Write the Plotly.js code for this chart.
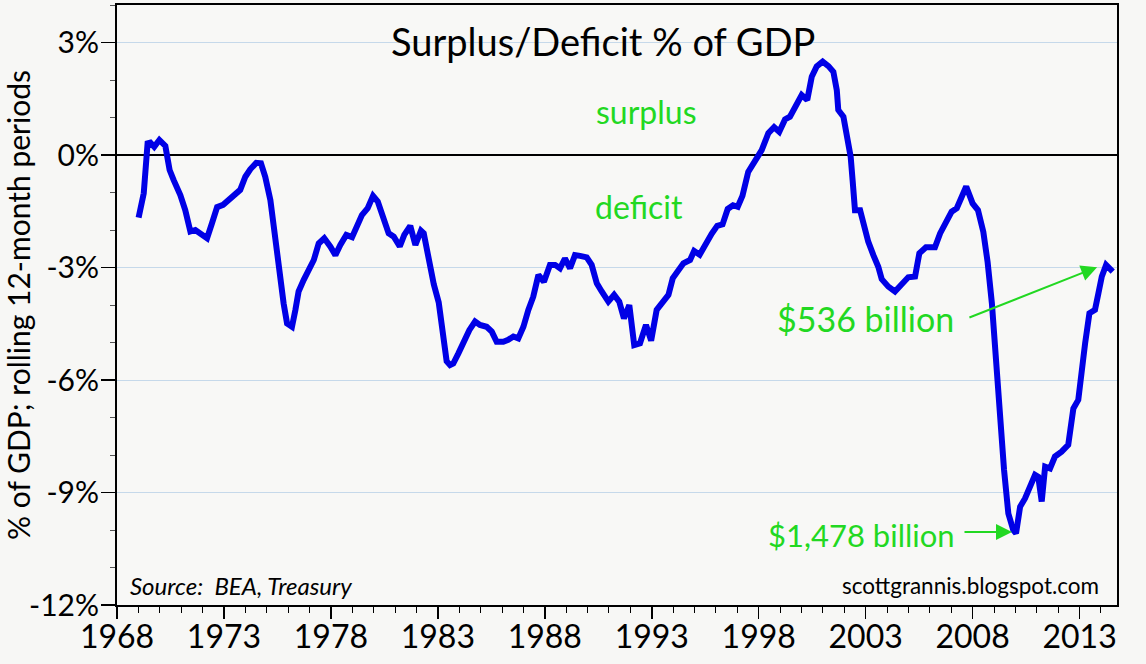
<!DOCTYPE html>
<html>
<head>
<meta charset="utf-8">
<script src="https://cdn.plot.ly/plotly-3.0.1.min.js"></script>
<style>html,body{margin:0;padding:0;background:#f7f7f5;}#chart{width:1146px;height:664px;}</style>
</head>
<body>
<div id="chart"></div>
<script>
// Year (decimal) and surplus/deficit as % of GDP, rolling 12-month periods
const years = [
1969.01,1969.25,1969.43,1969.56,1969.74,1969.98,1970.26,1970.46,1970.65,1970.96,
1971.19,1971.43,1971.66,1971.97,1972.21,1972.44,1972.68,1972.96,1973.30,1973.53,
1973.76,1974.00,1974.23,1974.51,1974.73,1974.93,1975.17,1975.33,1975.48,1975.64,
1975.79,1975.95,1976.18,1976.34,1976.49,1976.73,1976.96,1977.20,1977.43,1977.69,
1977.97,1978.21,1978.44,1978.72,1978.99,1979.22,1979.45,1979.72,1979.97,1980.19,
1980.44,1980.70,1980.94,1981.22,1981.43,1981.71,1981.95,1982.21,1982.34,1982.57,
1982.81,1983.04,1983.22,1983.41,1983.57,1983.72,1983.96,1984.19,1984.47,1984.74,
1984.97,1985.28,1985.52,1985.75,1986.06,1986.29,1986.53,1986.76,1987.00,1987.23,
1987.46,1987.70,1987.96,1988.24,1988.48,1988.71,1988.94,1989.18,1989.41,1989.65,
1989.96,1990.19,1990.43,1990.66,1990.97,1991.24,1991.48,1991.70,1991.95,1992.18,
1992.45,1992.73,1992.97,1993.23,1993.51,1993.78,1993.98,1994.24,1994.48,1994.79,
1994.98,1995.24,1995.55,1995.80,1996.06,1996.31,1996.55,1996.80,1997.02,1997.24,
1997.51,1997.83,1998.14,1998.45,1998.72,1998.96,1999.23,1999.46,1999.74,2000.01,
2000.27,2000.48,2000.71,2000.99,2001.26,2001.49,2001.65,2001.72,2001.96,2002.16,
2002.30,2002.39,2002.50,2002.74,2002.94,2003.12,2003.36,2003.59,2003.75,2004.06,
2004.37,2004.69,2004.99,2005.31,2005.51,2005.82,2006.24,2006.48,2006.79,2007.02,
2007.26,2007.49,2007.70,2008.00,2008.25,2008.50,2008.70,2008.90,2009.09,2009.28,
2009.47,2009.67,2009.90,2010.03,2010.22,2010.45,2010.68,2010.92,2011.07,2011.23,
2011.39,2011.62,2011.85,2012.16,2012.47,2012.63,2012.71,2012.94,2013.10,2013.26,
2013.46,2013.72,2013.88,2014.04,2014.24,2014.35,2014.55
];
const balancePct = [
-1.67,-1.02,0.31,0.33,0.22,0.40,0.24,-0.40,-0.67,-1.07,
-1.47,-2.04,-2.00,-2.12,-2.22,-1.82,-1.39,-1.33,-1.16,-1.02,
-0.93,-0.58,-0.38,-0.21,-0.22,-0.58,-1.20,-1.91,-2.62,-3.33,
-3.96,-4.49,-4.58,-4.13,-3.64,-3.33,-3.07,-2.80,-2.36,-2.22,
-2.44,-2.67,-2.40,-2.13,-2.19,-1.91,-1.60,-1.42,-1.09,-1.24,
-1.64,-2.09,-2.18,-2.44,-2.13,-1.89,-2.40,-2.02,-2.09,-2.80,
-3.45,-3.93,-4.76,-5.50,-5.60,-5.56,-5.29,-4.98,-4.67,-4.44,
-4.53,-4.58,-4.71,-4.98,-4.98,-4.93,-4.84,-4.89,-4.58,-4.13,
-3.78,-3.20,-3.38,-2.93,-2.93,-3.02,-2.76,-3.02,-2.67,-2.69,
-2.73,-2.93,-3.42,-3.64,-3.91,-3.73,-3.91,-4.36,-4.00,-5.07,
-5.02,-4.53,-4.95,-4.13,-3.91,-3.73,-3.29,-3.10,-2.89,-2.80,
-2.56,-2.66,-2.33,-2.10,-1.89,-1.85,-1.44,-1.34,-1.38,-1.09,
-0.45,-0.18,0.13,0.58,0.74,0.62,0.95,1.02,1.29,1.60,
1.47,2.09,2.36,2.49,2.37,2.22,1.73,1.20,1.02,0.49,
-0.05,-0.67,-1.47,-1.47,-1.91,-2.31,-2.67,-2.98,-3.31,-3.51,
-3.64,-3.42,-3.26,-3.24,-2.62,-2.46,-2.46,-2.09,-1.78,-1.51,
-1.42,-1.11,-0.84,-1.29,-1.47,-2.05,-2.85,-3.95,-5.47,-7.07,
-8.40,-9.56,-10.00,-10.09,-9.38,-9.16,-8.84,-8.53,-8.58,-9.24,
-8.31,-8.36,-8.04,-7.91,-7.73,-7.16,-6.76,-6.53,-5.91,-5.02,
-4.22,-4.13,-3.69,-3.24,-2.93,-2.98,-3.11
];
const xTickVals = [1968,1973,1978,1983,1988,1993,1998,2003,2008,2013];
const yTickVals = [-12,-9,-6,-3,0,3];
const yTickText = ['-12%','-9%','-6%','-3%','0%','3%'];

const FONT = 'Lato, "Open Sans", sans-serif';
const GREEN = '#22d822';

const trace = {
  x: years, y: balancePct, type: 'scatter', mode: 'lines',
  line: {color: '#0000e6', width: 6},
  hoverinfo: 'x+y'
};

const layout = {
  width: 1146, height: 664,
  margin: {l: 117, r: 29, t: 5, b: 59},
  paper_bgcolor: '#f7f7f5', plot_bgcolor: '#f8f8f6',
  showlegend: false,
  font: {family: FONT, color: '#000'},
  xaxis: {
    range: [1968, 2014.75], tickvals: xTickVals, ticktext: xTickVals.map(String),
    ticks: 'outside', ticklen: 12, tickwidth: 1.5, tickcolor: '#000',
    minor: {dtick: 1, tick0: 1968, ticks: 'outside', ticklen: 6, tickwidth: 1, tickcolor: '#000', showgrid: false},
    showgrid: false, zeroline: false,
    showline: true, linecolor: '#000', linewidth: 2, mirror: true,
    tickfont: {size: 32, family: FONT, color: '#000'},
    ticklabelstandoff: -9
  },
  yaxis: {
    range: [-12, 4], tickvals: yTickVals, ticktext: yTickText,
    ticks: 'outside', ticklen: 14, tickwidth: 1.5, tickcolor: '#000',
    minor: {dtick: 1, tick0: 0, ticks: 'outside', ticklen: 5, tickwidth: 1, tickcolor: '#555', showgrid: false},
    showgrid: true, gridcolor: '#c6d9ea', gridwidth: 1,
    zeroline: true, zerolinecolor: '#000', zerolinewidth: 2,
    showline: true, linecolor: '#000', linewidth: 2, mirror: true,
    tickfont: {size: 30, family: FONT, color: '#000'},
    ticklabelstandoff: -4,
    title: {text: '% of GDP; rolling 12-month periods', font: {size: 30, family: FONT, color: '#000'}, standoff: 6}
  },
  annotations: [
    {xref: 'paper', yref: 'paper', x: 0.486, y: 0.94, text: 'Surplus/Deficit % of GDP', showarrow: false,
     font: {size: 38, family: FONT, color: '#000'}, xanchor: 'center', yanchor: 'middle'},
    {xref: 'paper', yref: 'paper', x: 0.529, y: 0.822, text: 'surplus', showarrow: false,
     font: {size: 32, family: FONT, color: GREEN}, xanchor: 'center', yanchor: 'middle'},
    {xref: 'paper', yref: 'paper', x: 0.522, y: 0.664, text: 'deficit', showarrow: false,
     font: {size: 32, family: FONT, color: GREEN}, xanchor: 'center', yanchor: 'middle'},
    {xref: 'paper', yref: 'paper', x: 0.748, y: 0.478, text: '$536 billion', showarrow: false,
     font: {size: 34, family: FONT, color: GREEN}, xanchor: 'center', yanchor: 'middle'},
    {xref: 'paper', yref: 'paper', x: 0.744, y: 0.117, text: '$1,478 billion', showarrow: false,
     font: {size: 31, family: FONT, color: GREEN}, xanchor: 'center', yanchor: 'middle'},
    {xref: 'x', yref: 'y', axref: 'x', ayref: 'y', x: 2013.82, y: -2.99, ax: 2007.78, ay: -4.35,
     text: '', showarrow: true, arrowhead: 2, arrowsize: 1.6, arrowwidth: 2, arrowcolor: GREEN},
    {xref: 'x', yref: 'y', axref: 'x', ayref: 'y', x: 2009.84, y: -10.05, ax: 2007.55, ay: -10.05,
     text: '', showarrow: true, arrowhead: 2, arrowsize: 1.6, arrowwidth: 2, arrowcolor: GREEN},
    {xref: 'paper', yref: 'paper', x: 0.011, y: 0.033, text: '<i>Source:  BEA, Treasury</i>', showarrow: false,
     font: {size: 24, family: FONT, color: '#000'}, xanchor: 'left', yanchor: 'middle'},
    {xref: 'paper', yref: 'paper', x: 0.984, y: 0.033, text: 'scottgrannis.blogspot.com', showarrow: false,
     font: {size: 22.5, family: FONT, color: '#000'}, xanchor: 'right', yanchor: 'middle'}
  ]
};

Plotly.newPlot('chart', [trace], layout, {displayModeBar: false, staticPlot: true});
</script>
</body>
</html>
